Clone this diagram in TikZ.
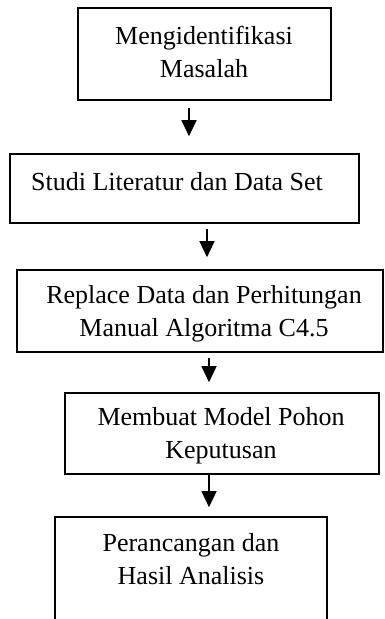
\documentclass[tikz,border=0pt]{standalone}
\usepackage{fontspec}
\setmainfont{Liberation Serif}
\usetikzlibrary{arrows.meta}
\tikzset{
  stepbox/.style={draw=black, line width=1.6pt, inner sep=0pt},
  lbl/.style={align=center, inner sep=0pt, font=\fontsize{26pt}{33pt}\selectfont},
  flow/.style={line width=1.3pt, -{Triangle[length=16pt,width=15pt]}}
}
\begin{document}
\begin{tikzpicture}[x=1pt,y=1pt]
  \useasboundingbox (0,0) rectangle (384,-619);
  \clip (0,0) rectangle (384,-619);
  % boxes
  \node[stepbox, minimum width=253pt, minimum height=92pt] (b1) at (204.5,-54) {};
  \node[stepbox, minimum width=349pt, minimum height=69pt] (b2) at (184.5,-188.5) {};
  \node[stepbox, minimum width=366pt, minimum height=82pt] (b3) at (200,-311) {};
  \node[stepbox, minimum width=314pt, minimum height=81pt] (b4) at (222,-433.5) {};
  \node[stepbox, minimum width=272pt, minimum height=140pt] (b5) at (191,-587) {};
  % labels
  \node[lbl] (t1) at (204,-51.5) {Mengidentifikasi\\Masalah};
  \node[lbl] (t2) at (177,-182) {Studi Literatur dan Data Set};
  \node[lbl] (t3) at (204,-314) {Replace Data dan Perhitungan\\Manual Algoritma C4.5};
  \node[lbl] (t4) at (221,-436) {Membuat Model Pohon\\Keputusan};
  \node[lbl] (t5) at (191,-559.5) {Perancangan dan\\Hasil Analisis};
  % arrow columns
  \coordinate (s1) at (189,0);
  \coordinate (s2) at (207,0);
  \coordinate (s3) at (209,0);
  \coordinate (s4) at (209,0);
  % connectors
  \draw[flow, shorten <=7pt, shorten >=17pt] (b1.south -| s1) -- (b2.north -| s1);
  \draw[flow, shorten <=5pt, shorten >=12pt] (b2.south -| s2) -- (b3.north -| s2);
  \draw[flow, shorten <=5pt, shorten >=10pt] (b3.south -| s3) -- (b4.north -| s3);
  \draw[flow, shorten >=9pt] (b4.south -| s4) -- (b5.north -| s4);
\end{tikzpicture}
\end{document}
